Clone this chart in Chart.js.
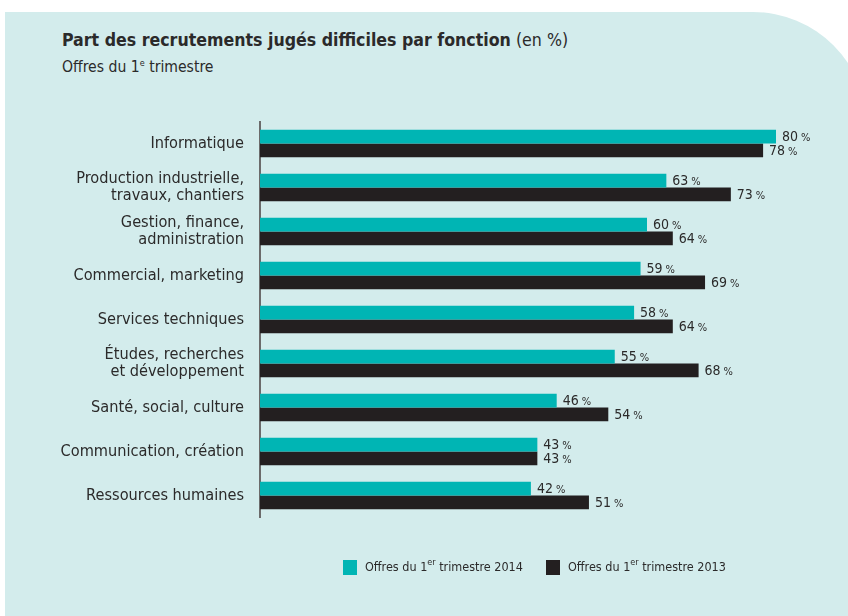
<!DOCTYPE html>
<html lang="fr">
<head>
<meta charset="utf-8">
<script src="https://cdn.jsdelivr.net/npm/chart.js@4"></script>
<style>
  html, body { margin: 0; padding: 0; width: 848px; height: 616px; overflow: hidden; background: #fff; }
  body { position: relative; font-family: "Liberation Sans Narrow", "DejaVu Sans Condensed", sans-serif; color: #2b2a2a; }
  #panel { position: absolute; left: 5px; top: 12px; width: 862px; height: 640px; background: #d3ecec; border-top-right-radius: 114px; }
  #title { position: absolute; left: 62px; top: 30px; font-size: 17.6px; white-space: nowrap; }
  #title b { font-weight: bold; }
  #title span { font-size: 17.6px; }
  #subtitle { position: absolute; left: 62px; top: 58px; font-size: 15.6px; white-space: nowrap; }
  sup { font-size: 9px; vertical-align: 6px; line-height: 0; }
  #legend { position: absolute; top: 559px; left: 343px; font-size: 12.5px; white-space: nowrap; }
  #legend .item { position: absolute; top: 0; }
  #legend .box { position: absolute; left: 0; top: 1px; width: 14px; height: 15px; }
  #legend .txt { position: absolute; left: 22px; top: 0; }
  #wrap { position: absolute; left: 0; top: 0; width: 848px; height: 616px; }
</style>
</head>
<body>
<div id="panel"></div>
<div id="title"><b>Part des recrutements jugés difficiles par fonction</b> <span>(en %)</span></div>
<div id="subtitle">Offres du 1<sup>e</sup> trimestre</div>
<div id="wrap"><canvas id="chart" width="848" height="616"></canvas></div>
<div id="legend"></div>
<script>
const categories = [
  "Informatique",
  ["Production industrielle,", "travaux, chantiers"],
  ["Gestion, finance,", "administration"],
  "Commercial, marketing",
  "Services techniques",
  ["Études, recherches", "et développement"],
  "Santé, social, culture",
  "Communication, création",
  "Ressources humaines"
];
const values2014 = [80, 63, 60, 59, 58, 55, 46, 43, 42];
const values2013 = [78, 73, 64, 69, 64, 68, 54, 43, 51];
const seriesNames = ["Offres du 1er trimestre 2014", "Offres du 1er trimestre 2013"];
const colors = ["#00b5b4", "#231f20"];

// legend in html (offset from center in the original)
const legend = document.getElementById("legend");
const legendX = [0, 203];
seriesNames.forEach((name, i) => {
  const item = document.createElement("div");
  item.className = "item";
  item.style.left = legendX[i] + "px";
  item.innerHTML = '<div class="box" style="background:' + colors[i] + '"></div>' +
    '<div class="txt">' + name.replace("1er", "1<sup>er</sup>") + "</div>";
  legend.appendChild(item);
});

const valueLabels = {
  id: "valueLabels",
  afterDatasetsDraw(chart) {
    const ctx = chart.ctx;
    ctx.save();
    ctx.fillStyle = "#2b2a2a";
    ctx.textBaseline = "middle";
    ctx.textAlign = "left";
    chart.data.datasets.forEach((ds, di) => {
      chart.getDatasetMeta(di).data.forEach((bar, i) => {
        const x = bar.x + 6;
        const y = bar.y + 1;
        ctx.font = '14px "Liberation Sans Narrow", "DejaVu Sans Condensed", sans-serif';
        const num = String(ds.data[i]);
        ctx.fillText(num, x, y);
        const w = ctx.measureText(num + " ").width;
        ctx.font = '11px "Liberation Sans Narrow", "DejaVu Sans Condensed", sans-serif';
        ctx.fillText("%", x + w - 1, y + 1);
      });
    });
    ctx.restore();
  }
};

new Chart(document.getElementById("chart").getContext("2d"), {
  type: "bar",
  data: {
    labels: categories,
    datasets: [
      { label: seriesNames[0], data: values2014, backgroundColor: colors[0] },
      { label: seriesNames[1], data: values2013, backgroundColor: colors[1] }
    ]
  },
  options: {
    indexAxis: "y",
    responsive: false,
    animation: false,
    datasets: { bar: { categoryPercentage: 0.625, barPercentage: 1 } },
    layout: { padding: { top: 121.5, bottom: 98.5, left: 0, right: 39.75 } },
    scales: {
      x: { display: false, min: 0, max: 85 },
      y: {
        afterFit: (s) => { s.width = 260; },
        grid: { display: false, drawTicks: false },
        border: { display: true, color: "#6b6b6b", width: 2 },
        ticks: {
          padding: 16,
          color: "#2b2a2a",
          font: { family: '"Liberation Sans Narrow", "DejaVu Sans Condensed", sans-serif', size: 16.2, lineHeight: 1.02 }
        }
      }
    },
    plugins: {
      legend: { display: false },
      title: { display: false },
      tooltip: { enabled: false }
    }
  },
  plugins: [valueLabels]
});
</script>
</body>
</html>
